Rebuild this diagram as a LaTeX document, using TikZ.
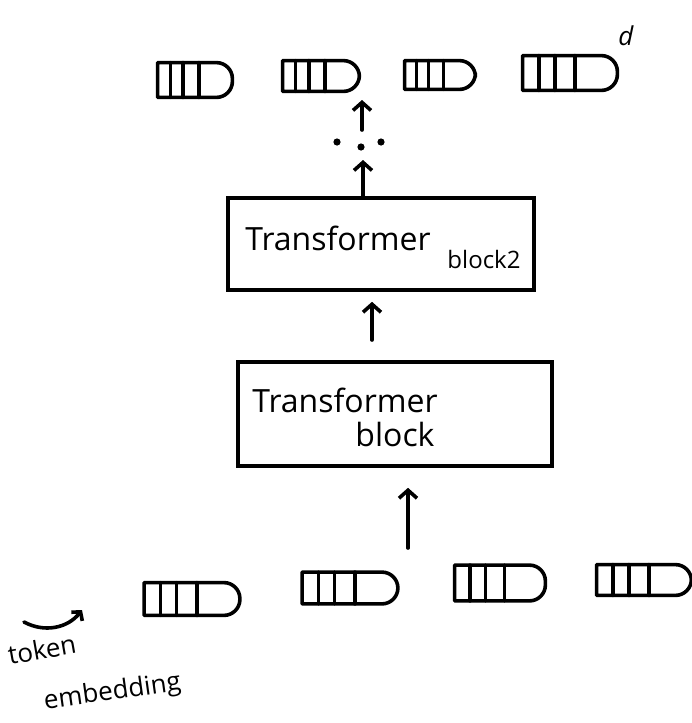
\documentclass[tikz,border=0pt]{standalone}
\usepackage{fontspec}
\setmainfont{Open Sans}
\usetikzlibrary{calc,arrows.meta}

% an embedding vector: a bar with a rounded right end and three cell dividers
\newcommand{\embvec}[5]{%
  \node[vecbox, minimum width=#4*0.5pt, minimum height=#5*0.5pt] (#1) at (#2,#3) {};
  \draw[ink] (#1.south west) -- (#1.north west)
    [rounded corners=8pt] -- (#1.north east) -- (#1.south east)
    [sharp corners] -- cycle;
  \foreach \f in {0.17,0.34,0.55}
    \draw[ink] ($(#1.north west)!\f!(#1.north east)$) -- ($(#1.south west)!\f!(#1.south east)$);
}

\begin{document}
\begin{tikzpicture}[x=0.5pt,y=-0.5pt,
  ink/.style={line width=1.8pt, line cap=round, line join=round},
  vecbox/.style={rectangle, draw=none, inner sep=0pt},
  block/.style={rectangle, draw, line width=1.8pt, inner sep=0pt},
  up/.style={ink, -{Straight Barb[length=4pt,width=9pt,line width=1.8pt]}},
  label/.style={font=\fontsize{16}{19}\selectfont, inner sep=0pt},
  small/.style={font=\fontsize{12}{14}\selectfont, inner sep=0pt},
  note/.style={font=\fontsize{13}{15}\selectfont, inner sep=1pt}]
\useasboundingbox (0,0) rectangle (691,723);

% output vectors
\embvec{o1}{195}{80}{74}{34}
\embvec{o2}{321}{76}{76}{30}
\embvec{o3}{440}{75}{70}{28}
\embvec{o4}{570}{73}{94}{34}
\node[note] (dim) at (626,36) {\itshape d};

% input token embeddings
\embvec{e1}{192}{599}{95}{32}
\embvec{e2}{350}{588}{95}{31}
\embvec{e3}{500}{583}{90}{35}
\embvec{e4}{644}{580}{94}{30}

% transformer blocks
\node[block, minimum width=153pt, minimum height=46pt] (b2) at (381,244) {};
\node[label] (b2a) at (338,238) {Transformer};
\node[small] (b2b) at (484,259) {block2};

\node[block, minimum width=157pt, minimum height=52pt] (b1) at (395,414) {};
\node[label] (b1a) at (345,400) {Transformer};
\node[label] (b1b) at (395,434) {block};

% flow upward
\coordinate (in) at (408,548);
\draw[up, shorten >=10pt] (in) -- (in |- b1.south);
\coordinate (b1top) at (372,362);
\draw[up, shorten <=11pt, shorten >=5pt] (b1top) -- (b1top |- b2.south);
\coordinate (b2top) at (363,198);
\coordinate (mid) at (363,160);
\draw[up] (b2top) -- (mid);
\fill (337,142) circle[radius=1.8pt] (361,147) circle[radius=1.8pt] (381,142) circle[radius=1.8pt];
\coordinate (top0) at (362,130);
\coordinate (top1) at (362,100);
\draw[up] (top0) -- (top1);

% token embedding label
\node[note, rotate=10, anchor=south west] (tok) at (8,668) {token};
\node[note, rotate=8, anchor=south west] (emb) at (44,718) {embedding};
\coordinate (c0) at (24,622);
\coordinate (c1) at (82,610);
\draw[ink, -{Straight Barb[length=3pt,width=7pt,line width=1.8pt]}] (c0) to[bend right=40] (c1);
\end{tikzpicture}
\end{document}
